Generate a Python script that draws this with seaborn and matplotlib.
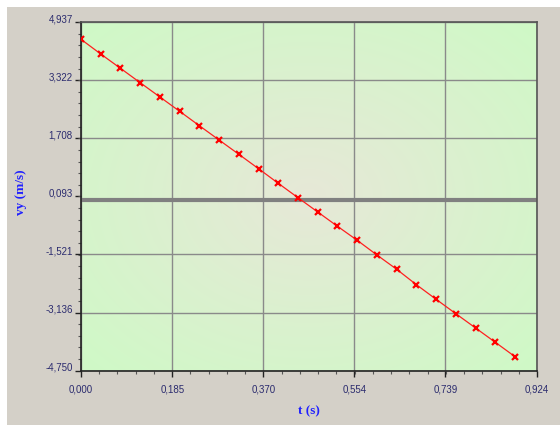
import numpy as np
import pandas as pd
import matplotlib
matplotlib.use("Agg")
import matplotlib.pyplot as plt
from matplotlib.patches import Rectangle
from matplotlib.ticker import FixedLocator, AutoMinorLocator
import seaborn as sns

# ---- data ----
t_values = [0.00, 0.04, 0.08, 0.12, 0.16, 0.20, 0.24, 0.28, 0.32, 0.36, 0.40, 0.44,
            0.48, 0.52, 0.56, 0.60, 0.64, 0.68, 0.72, 0.76, 0.80, 0.84, 0.88]
vy_values = [4.456, 4.048, 3.651, 3.251, 2.854, 2.456, 2.056, 1.659, 1.262, 0.862,
             0.456, 0.056, -0.341, -0.738, -1.127, -1.535, -1.932, -2.360, -2.766,
             -3.166, -3.563, -3.960, -4.360]
x_ticks = [0.000, 0.185, 0.370, 0.554, 0.739, 0.924]
x_tick_labels = ["0,000", "0,185", "0,370", "0,554", "0,739", "0,924"]
y_ticks = [-4.750, -3.136, -1.521, 0.093, 1.708, 3.322, 4.937]
y_tick_labels = ["-4,750", "-3,136", "-1,521", "0,093", "1,708", "3,322", "4,937"]
x_label = "t (s)"
y_label = "vy (m/s)"

df = pd.DataFrame({"t": t_values, "vy": vy_values})

sns.set_theme(style="white")
plt.rcParams["font.family"] = ["Liberation Sans", "DejaVu Sans"]

W, H = 560, 425
fig = plt.figure(figsize=(W / 100, H / 100), dpi=100, facecolor="white")
# grey panel
fig.patches.append(Rectangle((7 / W, 0), 1 - 7 / W, 1 - 7 / H, transform=fig.transFigure,
                             facecolor="#d4d0c8", edgecolor="none", zorder=-10))

ax = fig.add_axes([81 / W, 1 - 370.7 / H, (536.7 - 81) / W, (370.7 - 22) / H])
ax.set_facecolor("none")

# radial gradient background
n = 200
yy, xx = np.mgrid[-1:1:n * 1j, -1:1:n * 1j]
r = np.clip(np.sqrt(xx ** 2 + yy ** 2) / 1.35, 0, 1)
c_center = np.array([0.905, 0.910, 0.845])
c_edge = np.array([0.815, 0.975, 0.780])
img = c_center[None, None, :] * (1 - r[..., None]) + c_edge[None, None, :] * r[..., None]
ax.imshow(img, extent=[0, 1, 0, 1], transform=ax.transAxes, aspect="auto", zorder=-5,
          interpolation="bilinear")

ax.set_xlim(x_ticks[0], x_ticks[-1])
ax.set_ylim(y_ticks[0], y_ticks[-1])

ax.xaxis.set_major_locator(FixedLocator(x_ticks))
ax.yaxis.set_major_locator(FixedLocator(y_ticks))
ax.set_xticklabels(x_tick_labels)
ax.set_yticklabels(y_tick_labels)
ax.xaxis.set_minor_locator(AutoMinorLocator(5))
ax.yaxis.set_minor_locator(AutoMinorLocator(5))

ax.grid(True, which="major", color="#8a8a8a", linewidth=1.0)
ax.set_axisbelow(True)

# zero line
ax.axhline(0, color="#808080", linewidth=3.0, zorder=1)

sns.lineplot(data=df, x="t", y="vy", ax=ax, color="#ff2020", linewidth=0.9,
             marker="x", markersize=4.5, markeredgewidth=1.6,
             markeredgecolor="#ff0000", zorder=3)

ax.set_xlabel("")
ax.set_ylabel("")

tick_color = "#2b2b6e"
ax.tick_params(axis="both", which="major", direction="out", length=4, width=1,
               color="#222222", labelsize=7, labelcolor=tick_color, pad=2,
               left=True, bottom=True)
ax.tick_params(axis="both", which="minor", direction="out", length=2.5, width=0.8,
               color="#555555", left=True, bottom=True)
ax.tick_params(axis="x", which="major", pad=6)
for lab in ax.get_yticklabels():
    lab.set_va("baseline")

# the gridline at the 0,093 tick merges with the thick zero line in the reference
ax.yaxis.get_gridlines()[3].set_visible(False)

for side in ["left", "bottom"]:
    ax.spines[side].set_color("#222222")
    ax.spines[side].set_linewidth(1.2)
for side in ["top", "right"]:
    ax.spines[side].set_color("#555555")
    ax.spines[side].set_linewidth(1.2)
    ax.spines[side].set_visible(True)

fig.text(21 / W, 1 - 192 / H, y_label, rotation=90, ha="center", va="center",
         color="#2020ff", fontsize=9.5, fontweight="bold", family="Liberation Serif")
fig.text(309 / W, 1 - 411 / H, x_label, ha="center", va="center",
         color="#2020ff", fontsize=9.5, fontweight="bold", family="Liberation Serif")

fig.savefig("out.png", dpi=100, facecolor=fig.get_facecolor())
